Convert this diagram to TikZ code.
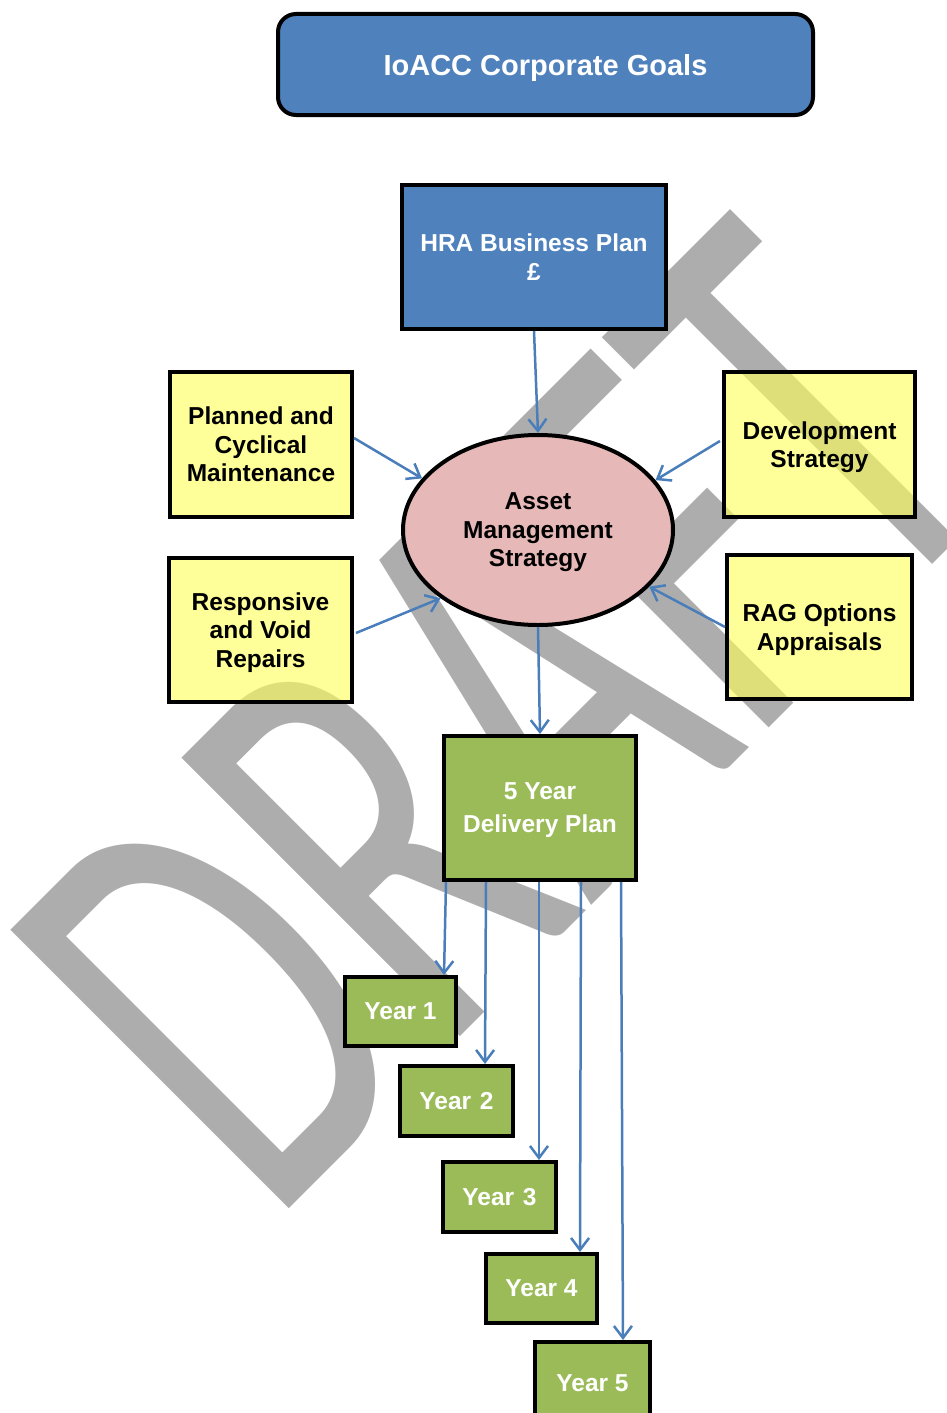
\documentclass[tikz,border=0pt]{standalone}
\usepackage{fontspec}
\setmainfont{Liberation Sans}
\newfontfamily\wmfont{Carlito}
\usetikzlibrary{arrows.meta,shapes.geometric,calc}
\definecolor{oblue}{RGB}{79,129,189}
\definecolor{ogreen}{RGB}{155,187,89}
\definecolor{opink}{RGB}{230,185,184}
\definecolor{oyel}{RGB}{255,255,90}
\definecolor{wgrey}{RGB}{173,173,173}
\definecolor{aline}{RGB}{74,126,187}
\begin{document}
\begin{tikzpicture}[x=1pt,y=-1pt,
  box/.style={draw=black, line width=4pt, inner sep=0pt, align=center, text depth=0pt,
    font=\bfseries\fontsize{24.5}{28.5}\selectfont},
  bluebox/.style={box, fill=oblue, text=white},
  ybox/.style={box, fill=oyel, fill opacity=0.62, text opacity=1, text=black},
  gbox/.style={box, fill=ogreen, text=white},
  arr/.style={draw=aline, line width=2.5pt, -{Straight Barb[length=12pt,width=18pt]}}
]
\useasboundingbox (0,0) rectangle (947,1413);
% watermark
\node[anchor=base west, inner sep=0pt, outer sep=0pt, rotate=45, yscale=1.57,
  text=wgrey, font=\wmfont\fontsize{391}{400}\selectfont] (wm) at (270,1227) {DRAFT};
% nodes
\node[bluebox, rounded corners=18pt, minimum width=535pt, minimum height=101pt,
  font=\bfseries\fontsize{29}{34}\selectfont] (goals) at (545.5,64.5) {IoACC Corporate Goals};
\node[bluebox, minimum width=264pt, minimum height=144pt] (hra) at (534,257) {HRA Business Plan\\\pounds};
\node[box, ellipse, fill=opink, minimum width=270pt, minimum height=190pt] (ams) at (538,530) {Asset\\Management\\Strategy};
\node[ybox, minimum width=182pt, minimum height=145pt] (pcm) at (261,444.5) {Planned and\\Cyclical\\Maintenance};
\node[ybox, minimum width=183pt, minimum height=144pt] (rvr) at (260.5,630) {Responsive\\and Void\\Repairs};
\node[ybox, minimum width=191pt, minimum height=145pt] (dev) at (819.5,444.5) {Development\\Strategy};
\node[ybox, minimum width=185pt, minimum height=144pt] (rag) at (819.5,627) {RAG Options\\Appraisals};
\node[gbox, minimum width=192pt, minimum height=144pt,
  font=\bfseries\fontsize{24.5}{33}\selectfont] (dp) at (540,808) {5 Year\\Delivery Plan};
\node[gbox, minimum width=111pt, minimum height=69pt] (y1) at (400.5,1011.5) {Year 1};
\node[gbox, minimum width=113pt, minimum height=70pt] (y2) at (456.5,1101) {Year\kern2pt\ 2};
\node[gbox, minimum width=113pt, minimum height=70pt] (y3) at (499.5,1197) {Year\kern2pt\ 3};
\node[gbox, minimum width=111pt, minimum height=69pt] (y4) at (541.5,1288.5) {Year 4};
\node[gbox, minimum width=115pt, minimum height=82pt] (y5) at (592.5,1383) {Year 5};
% connectors
\draw[arr] (hra.south) -- (ams.north);
\draw[arr] ($(pcm.east)+(0,-6.5)$) -- (ams.156);
\draw[arr] ($(dev.west)+(-2,-3.5)$) -- (ams.23);
\draw[arr] ($(rvr.east)+(2,3)$) -- (ams.215);
\draw[arr] (rag.west) -- (ams.333);
\draw[arr] (ams.south) -- (dp.north);
\draw[arr] ($(dp.south west)+(4,0)$) -- ($(y1.north east)+(-14,0)$);
\draw[arr] ($(dp.south west)+(44,0)$) -- ($(y2.north east)+(-30,0)$);
\draw[arr] ($(dp.south west)+(97,0)$) -- ($(y3.north east)+(-19,0)$);
\draw[arr] ($(dp.south west)+(139,0)$) -- ($(y4.north east)+(-19,0)$);
\draw[arr] ($(dp.south west)+(179,0)$) -- ($(y5.north east)+(-29,0)$);
\end{tikzpicture}
\end{document}
